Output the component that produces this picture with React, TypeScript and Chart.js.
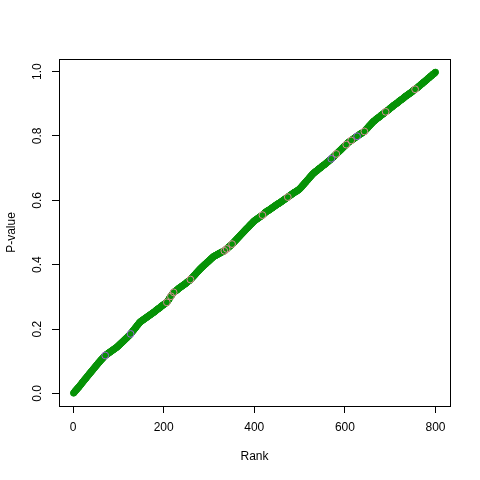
import React, { useEffect, useRef } from "react";
import { Chart, registerables } from "chart.js";
Chart.register(...registerables);

// Sorted p-values, rank 1..800
const pValues: number[] = [
  0.001,0.002,0.004,0.006,0.008,0.009,0.011,0.012,0.014,0.016,0.017,0.019,0.020,0.022,0.024,0.026,0.027,0.029,0.031,0.033,
  0.035,0.036,0.038,0.040,0.042,0.043,0.045,0.047,0.048,0.050,0.052,0.054,0.055,0.057,0.059,0.061,0.062,0.064,0.066,0.067,
  0.069,0.071,0.072,0.074,0.076,0.078,0.079,0.081,0.083,0.084,0.086,0.088,0.089,0.091,0.093,0.095,0.096,0.098,0.099,0.101,
  0.103,0.104,0.106,0.107,0.109,0.110,0.112,0.114,0.115,0.117,0.118,0.119,0.120,0.121,0.122,0.123,0.124,0.125,0.126,0.127,
  0.128,0.129,0.130,0.131,0.132,0.133,0.134,0.135,0.136,0.137,0.138,0.139,0.140,0.141,0.142,0.143,0.144,0.145,0.147,0.148,
  0.149,0.151,0.152,0.153,0.155,0.156,0.157,0.159,0.160,0.161,0.163,0.164,0.165,0.167,0.168,0.169,0.171,0.172,0.173,0.175,
  0.176,0.178,0.179,0.180,0.182,0.183,0.185,0.187,0.189,0.190,0.192,0.194,0.196,0.197,0.199,0.201,0.203,0.204,0.206,0.208,
  0.210,0.212,0.213,0.215,0.217,0.219,0.220,0.222,0.223,0.224,0.225,0.226,0.227,0.228,0.229,0.230,0.231,0.232,0.233,0.234,
  0.235,0.236,0.237,0.238,0.239,0.240,0.241,0.242,0.243,0.244,0.245,0.246,0.247,0.248,0.249,0.250,0.251,0.252,0.253,0.254,
  0.255,0.256,0.258,0.259,0.260,0.261,0.262,0.263,0.264,0.265,0.266,0.267,0.268,0.270,0.271,0.272,0.273,0.274,0.275,0.276,
  0.277,0.278,0.279,0.280,0.281,0.282,0.283,0.285,0.287,0.289,0.291,0.293,0.296,0.298,0.300,0.302,0.304,0.306,0.308,0.310,
  0.312,0.314,0.315,0.316,0.317,0.318,0.319,0.320,0.321,0.322,0.323,0.325,0.326,0.327,0.328,0.329,0.330,0.331,0.332,0.333,
  0.334,0.335,0.336,0.337,0.338,0.339,0.340,0.341,0.342,0.343,0.345,0.346,0.347,0.348,0.349,0.350,0.351,0.352,0.354,0.355,
  0.357,0.358,0.360,0.361,0.363,0.364,0.366,0.367,0.369,0.370,0.372,0.374,0.375,0.377,0.378,0.380,0.381,0.383,0.384,0.386,
  0.387,0.389,0.390,0.391,0.393,0.394,0.395,0.397,0.398,0.399,0.401,0.402,0.403,0.404,0.406,0.407,0.408,0.409,0.411,0.412,
  0.413,0.415,0.416,0.417,0.419,0.420,0.421,0.422,0.424,0.425,0.426,0.427,0.427,0.428,0.429,0.430,0.430,0.431,0.432,0.433,
  0.434,0.434,0.435,0.436,0.437,0.437,0.438,0.439,0.440,0.440,0.441,0.442,0.442,0.443,0.444,0.445,0.447,0.448,0.449,0.450,
  0.451,0.453,0.454,0.455,0.456,0.458,0.459,0.460,0.461,0.463,0.464,0.465,0.467,0.468,0.470,0.471,0.473,0.474,0.476,0.477,
  0.479,0.480,0.482,0.483,0.485,0.486,0.488,0.489,0.491,0.492,0.494,0.495,0.497,0.498,0.500,0.501,0.503,0.504,0.506,0.507,
  0.509,0.510,0.512,0.513,0.514,0.516,0.517,0.519,0.520,0.522,0.523,0.525,0.526,0.527,0.529,0.530,0.532,0.533,0.535,0.536,
  0.537,0.538,0.539,0.540,0.541,0.542,0.543,0.544,0.545,0.546,0.547,0.548,0.549,0.550,0.551,0.552,0.553,0.554,0.555,0.557,
  0.558,0.559,0.560,0.562,0.563,0.564,0.565,0.566,0.567,0.568,0.568,0.569,0.570,0.571,0.572,0.573,0.574,0.575,0.576,0.577,
  0.578,0.579,0.580,0.581,0.582,0.583,0.584,0.585,0.586,0.587,0.588,0.589,0.590,0.590,0.591,0.592,0.593,0.594,0.595,0.596,
  0.597,0.598,0.599,0.600,0.601,0.602,0.603,0.604,0.605,0.606,0.607,0.608,0.609,0.610,0.611,0.612,0.613,0.614,0.615,0.616,
  0.617,0.618,0.619,0.620,0.621,0.622,0.623,0.624,0.625,0.626,0.626,0.627,0.628,0.629,0.630,0.631,0.632,0.633,0.634,0.635,
  0.637,0.638,0.640,0.641,0.643,0.645,0.646,0.648,0.649,0.651,0.653,0.654,0.656,0.657,0.659,0.661,0.662,0.664,0.665,0.667,
  0.669,0.670,0.672,0.674,0.675,0.677,0.678,0.680,0.682,0.683,0.684,0.685,0.687,0.688,0.689,0.690,0.691,0.692,0.693,0.694,
  0.696,0.697,0.698,0.699,0.700,0.701,0.702,0.703,0.705,0.706,0.707,0.708,0.709,0.710,0.711,0.712,0.713,0.714,0.716,0.717,
  0.718,0.719,0.720,0.722,0.723,0.724,0.725,0.726,0.727,0.729,0.730,0.731,0.733,0.734,0.735,0.737,0.738,0.740,0.741,0.742,
  0.744,0.745,0.746,0.748,0.749,0.750,0.752,0.753,0.754,0.756,0.757,0.758,0.760,0.761,0.763,0.764,0.765,0.767,0.768,0.769,
  0.771,0.772,0.773,0.775,0.776,0.778,0.779,0.780,0.781,0.782,0.783,0.784,0.785,0.786,0.787,0.788,0.789,0.790,0.791,0.792,
  0.793,0.794,0.795,0.796,0.797,0.798,0.799,0.800,0.801,0.802,0.803,0.804,0.805,0.806,0.807,0.808,0.808,0.809,0.810,0.811,
  0.812,0.813,0.814,0.816,0.817,0.819,0.820,0.822,0.823,0.825,0.826,0.828,0.830,0.831,0.833,0.834,0.836,0.837,0.839,0.840,
  0.842,0.843,0.845,0.846,0.847,0.848,0.849,0.850,0.852,0.853,0.854,0.855,0.856,0.857,0.858,0.859,0.860,0.861,0.863,0.864,
  0.865,0.866,0.867,0.868,0.869,0.870,0.871,0.873,0.874,0.875,0.876,0.877,0.878,0.879,0.880,0.881,0.882,0.883,0.885,0.886,
  0.887,0.888,0.889,0.890,0.891,0.893,0.894,0.895,0.896,0.897,0.898,0.899,0.900,0.901,0.902,0.903,0.904,0.905,0.907,0.908,
  0.909,0.910,0.911,0.912,0.913,0.914,0.915,0.916,0.917,0.918,0.920,0.921,0.922,0.923,0.924,0.925,0.926,0.927,0.928,0.929,
  0.930,0.931,0.932,0.933,0.934,0.935,0.936,0.937,0.938,0.940,0.941,0.942,0.943,0.944,0.945,0.946,0.947,0.948,0.949,0.950,
  0.951,0.952,0.954,0.955,0.956,0.957,0.958,0.960,0.961,0.962,0.963,0.964,0.966,0.967,0.968,0.969,0.970,0.971,0.973,0.974,
  0.975,0.976,0.978,0.979,0.980,0.981,0.982,0.984,0.985,0.986,0.987,0.988,0.990,0.991,0.992,0.993,0.994,0.995,0.997,0.998,
];

// Highlighted ranks (open rings drawn over the green points)
const pinkRanks: number[] = [207, 216, 222, 259, 334, 339, 351, 418, 474, 581, 603, 614, 643, 690, 755];
const purpleRanks: number[] = [71, 127, 570, 627];

const xTicks: number[] = [0, 200, 400, 600, 800];
const xTickLabels: string[] = ["0", "200", "400", "600", "800"];
const yTicks: number[] = [0, 0.2, 0.4, 0.6, 0.8, 1.0];
const yTickLabels: string[] = ["0.0", "0.2", "0.4", "0.6", "0.8", "1.0"];
const xTitle = "Rank";
const yTitle = "P-value";

const FONT = "12px 'Liberation Sans', Arial, Helvetica, sans-serif";

const rPlotPlugin = {
  id: "rPlot",
  afterDraw(chart: any) {
    const { ctx, chartArea } = chart;
    const xs = chart.scales.x;
    const ys = chart.scales.y;
    ctx.save();
    ctx.strokeStyle = "#000";
    ctx.lineWidth = 1;
    ctx.strokeRect(
      Math.round(chartArea.left) + 0.5,
      Math.round(chartArea.top) + 0.5,
      Math.round(chartArea.right - chartArea.left),
      Math.round(chartArea.bottom - chartArea.top)
    );
    ctx.fillStyle = "#000";
    ctx.font = FONT;
    ctx.textAlign = "center";
    ctx.textBaseline = "middle";
    xTicks.forEach((v, i) => {
      ctx.fillText(xTickLabels[i], xs.getPixelForValue(v), chartArea.bottom + 22);
    });
    ctx.fillText(xTitle, (chartArea.left + chartArea.right) / 2, chartArea.bottom + 51);
    yTicks.forEach((v, i) => {
      ctx.save();
      ctx.translate(chartArea.left - 21, ys.getPixelForValue(v));
      ctx.rotate(-Math.PI / 2);
      ctx.fillText(yTickLabels[i], 0, 0);
      ctx.restore();
    });
    ctx.save();
    ctx.translate(12, (chartArea.top + chartArea.bottom) / 2);
    ctx.rotate(-Math.PI / 2);
    ctx.fillText(yTitle, 0, 0);
    ctx.restore();
    ctx.restore();
  },
};

export default function App() {
  const ref = useRef<HTMLCanvasElement | null>(null);
  useEffect(() => {
    if (!ref.current) return;
    const mainPts = pValues.map((p, i) => ({ x: i + 1, y: p }));
    const pinkPts = pinkRanks.map((r) => ({ x: r, y: pValues[r - 1] }));
    const purplePts = purpleRanks.map((r) => ({ x: r, y: pValues[r - 1] }));
    const tickGrid = {
      display: true,
      drawOnChartArea: false,
      drawTicks: true,
      tickLength: 7,
      color: "#000",
      tickColor: "#000",
      lineWidth: 1,
    };
    const chart = new Chart(ref.current, {
      type: "scatter",
      data: {
        datasets: [
          {
            data: mainPts,
            backgroundColor: "#008b00",
            borderColor: "#0a960a",
            pointRadius: 3.1,
            borderWidth: 0.8,
            order: 3,
          },
          {
            data: pinkPts,
            backgroundColor: "rgba(0,0,0,0)",
            borderColor: "#d98a96",
            pointRadius: 3.4,
            borderWidth: 1,
            order: 2,
          },
          {
            data: purplePts,
            backgroundColor: "rgba(0,0,0,0)",
            borderColor: "#9b5fd6",
            pointRadius: 3.4,
            borderWidth: 1,
            order: 1,
          },
        ],
      },
      options: {
        responsive: false,
        animation: false,
        events: [],
        layout: { padding: { left: 0, top: 59, right: 30, bottom: 0 } },
        plugins: { legend: { display: false }, tooltip: { enabled: false }, title: { display: false } },
        scales: {
          x: {
            type: "linear",
            min: -31,
            max: 832,
            afterBuildTicks: (s: any) => {
              s.ticks = xTicks.map((v) => ({ value: v }));
            },
            afterFit: (s: any) => {
              s.height = 74;
            },
            grid: tickGrid,
            border: { display: false },
            ticks: { display: false },
          },
          y: {
            type: "linear",
            min: -0.039,
            max: 1.039,
            afterBuildTicks: (s: any) => {
              s.ticks = yTicks.map((v) => ({ value: v }));
            },
            afterFit: (s: any) => {
              s.width = 59;
            },
            grid: tickGrid,
            border: { display: false },
            ticks: { display: false },
          },
        },
      },
      plugins: [rPlotPlugin],
    } as any);
    return () => chart.destroy();
  }, []);
  return (
    <div style={{ position: "absolute", left: 0, top: 0, width: 480, height: 480, background: "#fff" }}>
      <canvas ref={ref} width={480} height={480} style={{ width: 480, height: 480 }} />
    </div>
  );
}
